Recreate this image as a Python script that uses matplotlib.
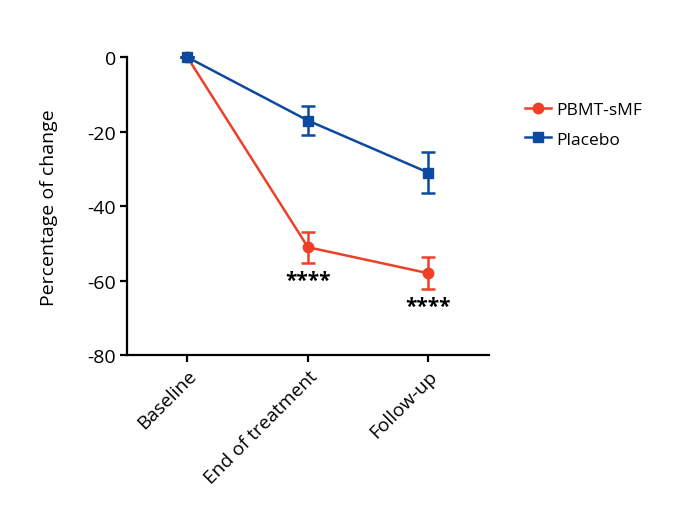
import matplotlib
matplotlib.use("Agg")
import matplotlib.pyplot as plt
from matplotlib.lines import Line2D

categories = ["Baseline", "End of treatment", "Follow-up"]
pbmt = [0, -51, -58]
pbmt_err = [0, 4.2, 4.3]
placebo = [0, -17, -31]
placebo_err = [0, 4.0, 5.5]
stars = ["", "****", "****"]
star_y = [None, -60, -67]
yticks = [0, -20, -40, -60, -80]

plt.rcParams['font.family'] = ['Open Sans', 'DejaVu Sans']

fig = plt.figure(figsize=(6.76, 5.06), dpi=100)
ax = fig.add_axes([0.188, 0.296, 0.535, 0.589])

red = "#EE3F28"
blue = "#0D4A9E"
x = list(range(len(categories)))

ax.errorbar(x, pbmt, yerr=pbmt_err, color=red, marker='o', markersize=7.5, lw=1.8,
            capsize=5, capthick=1.8, elinewidth=1.8, clip_on=False, zorder=3)
ax.errorbar(x, placebo, yerr=placebo_err, color=blue, marker='s', markersize=7.5, lw=1.8,
            capsize=5, capthick=1.8, elinewidth=1.8, clip_on=False, zorder=4)

for xi, s, sy in zip(x, stars, star_y):
    if s:
        ax.text(xi, sy, s, ha='center', va='center', fontsize=15, fontweight='bold', color='black')

ax.set_xlim(-0.5, 2.5)
ax.set_ylim(-80, 0)
ax.set_yticks(yticks)
ax.set_yticklabels([str(v) for v in yticks], fontsize=14)
ax.set_xticks(x)
ax.set_xticklabels(categories, rotation=45, ha='right', rotation_mode='anchor', fontsize=13.8)
ax.set_ylabel("Percentage of change", fontsize=14, labelpad=21)
for side in ['top', 'right']:
    ax.spines[side].set_visible(False)
for side in ['left', 'bottom']:
    ax.spines[side].set_linewidth(1.6)
ax.tick_params(width=1.6, length=5, pad=3)

handles = [Line2D([], [], color=red, marker='o', markersize=7.5, lw=1.8),
           Line2D([], [], color=blue, marker='s', markersize=7.5, lw=1.8)]
ax.legend(handles, ["PBMT-sMF", "Placebo"], loc='center left', bbox_to_anchor=(1.08, 0.773),
          frameon=False, fontsize=12.5, handlelength=1.5, handletextpad=0.3, labelspacing=0.75,
          borderaxespad=0)

fig.savefig("out.png", dpi=100)
